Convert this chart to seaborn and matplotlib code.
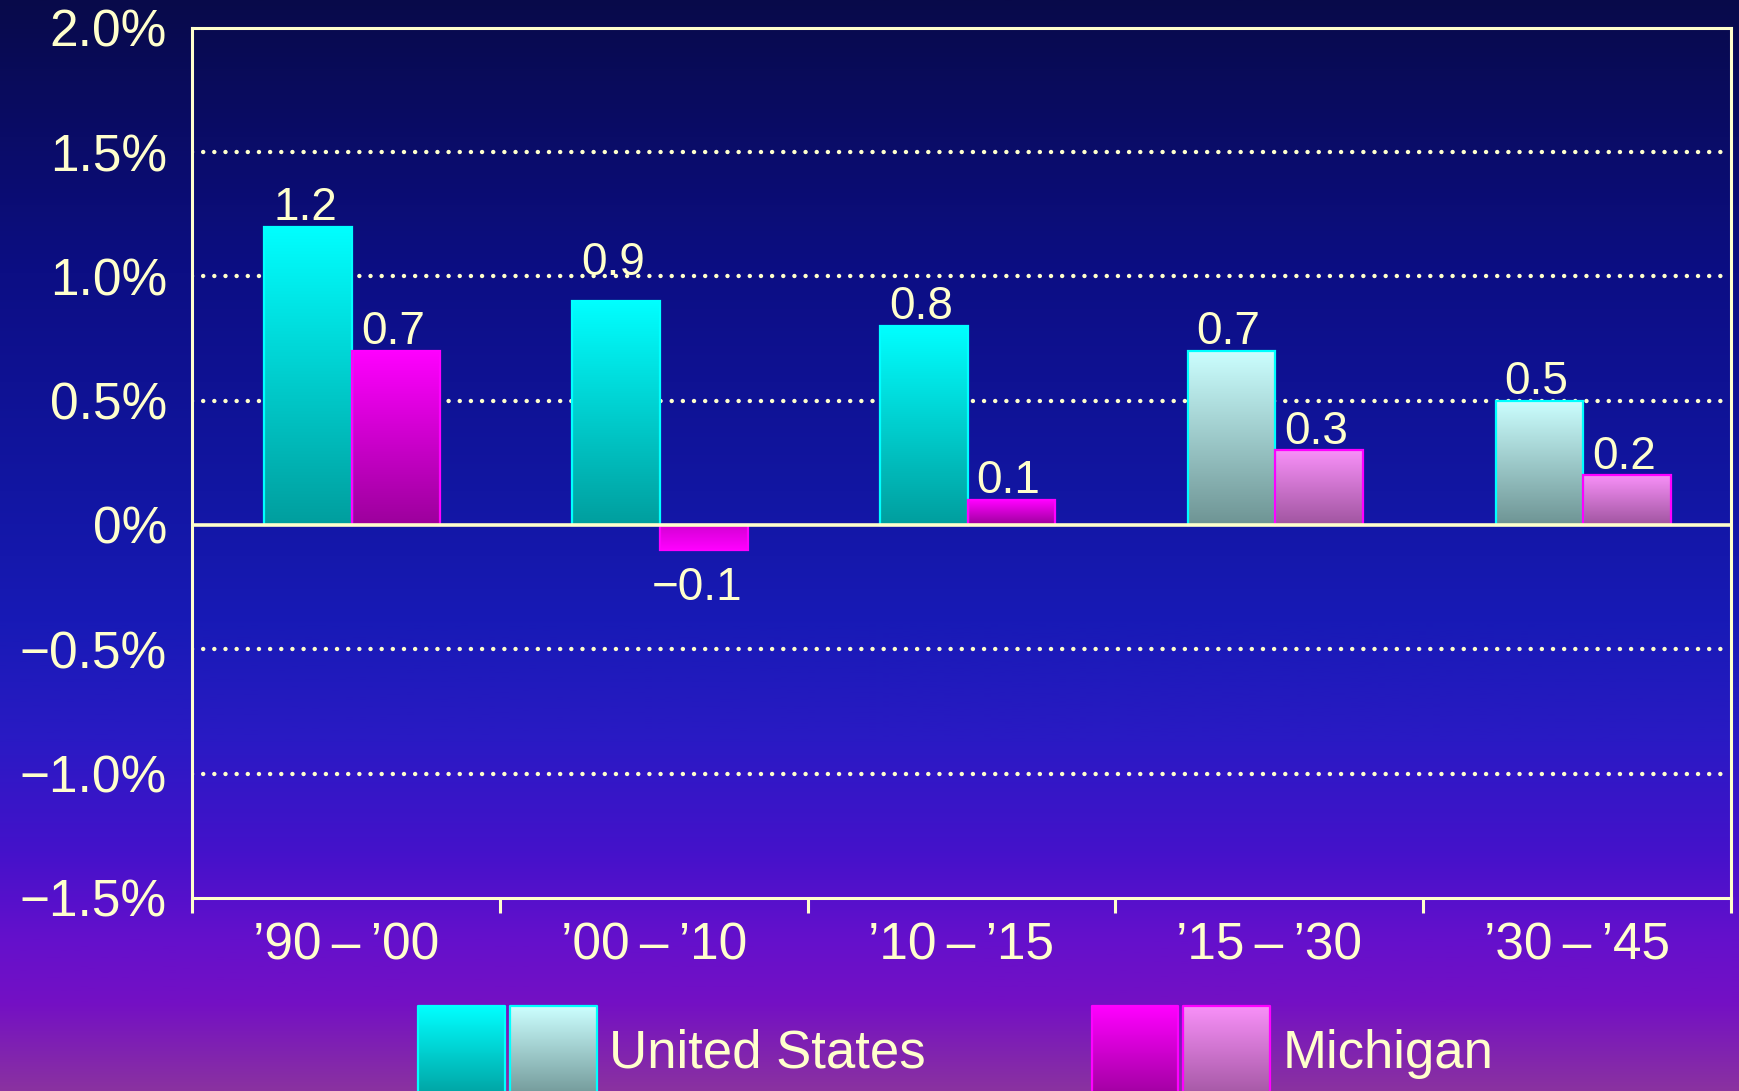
import numpy as np
import pandas as pd
import seaborn as sns
import matplotlib.pyplot as plt
from matplotlib.colors import to_rgb

plt.rcParams['font.family'] = ['Liberation Sans', 'DejaVu Sans']

# chart values
periods = ["\u201990\u2009\u2013\u2009\u201900", "\u201900\u2009\u2013\u2009\u201910",
           "\u201910\u2009\u2013\u2009\u201915", "\u201915\u2009\u2013\u2009\u201930",
           "\u201930\u2009\u2013\u2009\u201945"]
us_growth = [1.2, 0.9, 0.8, 0.7, 0.5]
mi_growth = [0.7, -0.1, 0.1, 0.3, 0.2]
projected = [False, False, False, True, True]
regions = ["United States", "Michigan"]
y_ticks = [2.0, 1.5, 1.0, 0.5, 0.0, -0.5, -1.0, -1.5]
y_ticklabels = ["2.0%", "1.5%", "1.0%", "0.5%", "0%", "\u22120.5%", "\u22121.0%", "\u22121.5%"]

cream = "#FFFFCC"
# (top colour, bottom colour, edge colour) for actual / projected bars
bar_colors = {
    ("United States", False): ("#00FFFF", "#009E9E", "#00FFFF"),
    ("United States", True): ("#CCFFFF", "#6E9494", "#00FFFF"),
    ("Michigan", False): ("#FF00FF", "#9C009C", "#FF00FF"),
    ("Michigan", True): ("#F890F8", "#A055A0", "#FF00FF"),
}

df = pd.DataFrame({
    "period": periods * 2,
    "growth": us_growth + mi_growth,
    "region": [regions[0]] * len(periods) + [regions[1]] * len(periods),
})


def vgrad(top, bottom, n=256):
    t = np.linspace(0, 1, n)[:, None, None]
    return (1 - t) * np.array(to_rgb(top)) + t * np.array(to_rgb(bottom))


fig = plt.figure(figsize=(17.39, 10.91), dpi=100)

# background gradient
bg = fig.add_axes([0, 0, 1, 1], zorder=-10)
stops = [(0.00, "#080A4A"), (0.25, "#0C0E84"), (0.45, "#1216A2"), (0.57, "#181AB6"),
         (0.68, "#2A1AC4"), (0.78, "#4412CA"), (0.86, "#6410CC"), (0.92, "#7410C4"),
         (1.00, "#8A32A0")]
pos = np.linspace(0, 1, 600)
cols = np.array([to_rgb(c) for _, c in stops])
bg_img = np.stack([np.interp(pos, [s for s, _ in stops], cols[:, k]) for k in range(3)], axis=-1)
bg.imshow(bg_img[:, None, :], aspect="auto", extent=[0, 1, 0, 1], origin="upper")
bg.set_axis_off()

ax = fig.add_axes([0.1104, 0.177, 0.8850, 0.7976])
ax.patch.set_alpha(0)

sns.barplot(data=df, x="period", y="growth", hue="region", order=periods,
            hue_order=regions, width=0.57, ax=ax, legend=False, saturation=1)

# replace flat fills with vertical gradients
shift = 0.02
for region, cont in zip(regions, ax.containers):
    for i, rect in enumerate(cont):
        top, bottom, edge = bar_colors[(region, projected[i])]
        rect.set_x(rect.get_x() + shift)
        x0, y0 = rect.get_xy()
        w, h = rect.get_width(), rect.get_height()
        lo, hi = min(y0, y0 + h), max(y0, y0 + h)
        img = vgrad(top, bottom) if h >= 0 else vgrad("#D400D4", "#FF00FF")
        ax.imshow(img, extent=[x0, x0 + w, lo, hi], aspect="auto", origin="upper", zorder=2)
        rect.set_facecolor("none")
        rect.set_edgecolor(edge)
        rect.set_linewidth(1.6)
        rect.set_zorder(3)

        v = us_growth[i] if region == regions[0] else mi_growth[i]
        txt = f"{v:.1f}".replace("-", "\u2212")
        xc = x0 + w / 2
        if v >= 0:
            nudge = 0.107 if (region == regions[0] and i == 1) else 0.027
            ax.text(xc - 0.01, v + nudge, txt, ha="center", va="baseline", fontsize=33, color=cream, zorder=5)
        else:
            ax.text(xc - 0.02, v - 0.2, txt, ha="center", va="baseline", fontsize=33, color=cream, zorder=5)

ax.set_xlim(-0.5, 4.5)
ax.set_ylim(-1.5, 2.0)
ax.set_aspect("auto")
ax.set_xlabel("")
ax.set_ylabel("")

ax.set_yticks(y_ticks)
ax.set_yticklabels(y_ticklabels)
ax.tick_params(axis="y", length=0, pad=18, labelsize=37, labelcolor=cream)

ax.set_xticks(range(len(periods)))
ax.set_xticklabels(periods)
ax.set_xticks(np.arange(-0.5, len(periods), 1.0), minor=True)
ax.tick_params(axis="x", which="major", length=0, pad=17, labelsize=37, labelcolor=cream)
ax.tick_params(axis="x", which="minor", length=11, width=2.2, color=cream, direction="out")

ax.set_axisbelow(True)
ax.grid(False)
for v in [1.5, 1.0, 0.5, -0.5, -1.0]:
    ax.axhline(v, color=cream, lw=3.2, ls=(0, (0.01, 2.5)), dash_capstyle="round", zorder=1)
ax.axhline(0, color=cream, lw=2.6, zorder=4)

for s in ax.spines.values():
    s.set_color(cream)
    s.set_linewidth(2.2)
    s.set_zorder(6)

# legend drawn in figure pixel coordinates
lg = fig.add_axes([0, 0, 1, 1], zorder=5)
lg.set_xlim(0, 1739)
lg.set_ylim(1091, 0)
lg.set_axis_off()
lg.patch.set_alpha(0)
legend_items = [
    ("United States", [(418, 505, False), (510, 597, True)], 609),
    ("Michigan", [(1092, 1178, False), (1183, 1270, True)], 1283),
]
for region, boxes, tx in legend_items:
    for xa, xb, proj in boxes:
        top, bottom, edge = bar_colors[(region, proj)]
        lg.imshow(vgrad(top, bottom), extent=[xa, xb, 1100, 1006], aspect="auto", origin="upper")
        lg.plot([xa, xa, xb, xb], [1100, 1006, 1006, 1100], color=edge, lw=1.6)
    lg.text(tx, 1054, region, ha="left", va="center", fontsize=38, color=cream)
lg.set_xlim(0, 1739)
lg.set_ylim(1091, 0)

fig.savefig("out.png", dpi=100)
